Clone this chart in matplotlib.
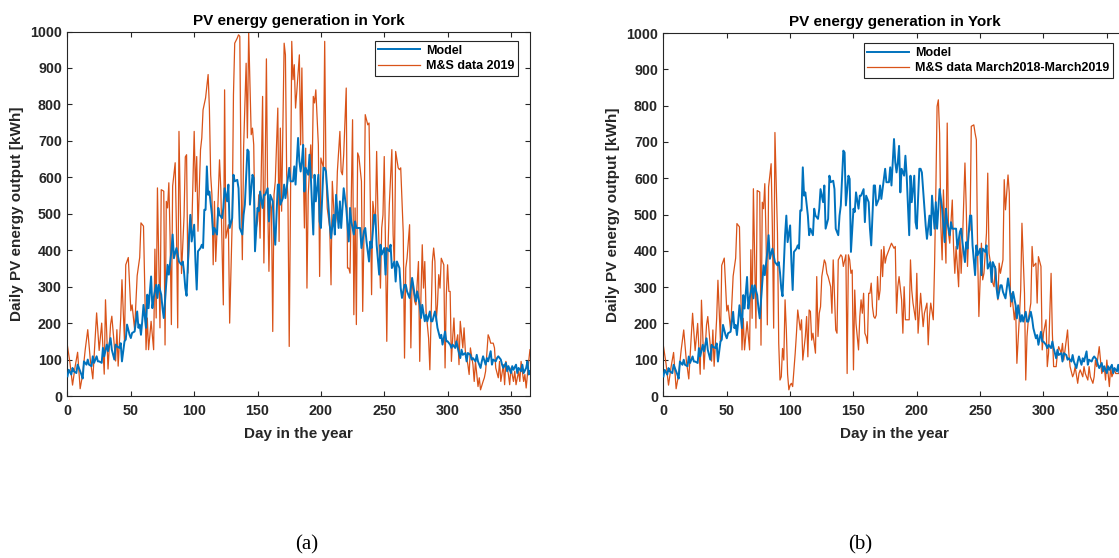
import matplotlib
matplotlib.use("Agg")
import matplotlib.pyplot as plt

plt.rcParams["font.family"] = ["Liberation Sans", "DejaVu Sans"]

# Model output (same curve in both panels)
model_day = [0, 1, 3, 4, 5, 7, 8, 9, 11, 12, 13, 15, 16, 17, 19, 20, 21, 23, 24, 25, 27, 28, 29, 31, 32, 33, 34, 35,
             37, 38, 39, 41, 42, 43, 45, 46, 47, 49, 50, 51, 53, 54, 55, 56, 57, 58, 59, 60, 62, 63, 64, 66, 67, 68,
             70, 71, 72, 74, 75, 76, 78, 79, 80, 82, 83, 84, 86, 87, 88, 90, 91, 92, 93, 94, 96, 97, 98, 100, 101,
             102, 103, 105, 106, 107, 108, 109, 110, 111, 112, 114, 115, 116, 118, 119, 120, 122, 123, 124, 126,
             127, 128, 130, 131, 132, 134, 135, 136, 138, 139, 140, 142, 143, 144, 146, 147, 148, 150, 151, 152,
             154, 155, 156, 158, 159, 160, 162, 163, 164, 166, 167, 168, 170, 171, 172, 174, 175, 176, 178, 179,
             180, 182, 183, 184, 185, 186, 187, 188, 190, 191, 192, 194, 195, 196, 198, 199, 200, 202, 203, 204,
             206, 207, 208, 210, 211, 212, 214, 215, 216, 218, 219, 220, 222, 223, 224, 226, 227, 228, 230, 231,
             232, 234, 235, 236, 238, 239, 240, 242, 243, 244, 246, 247, 248, 250, 251, 252, 254, 255, 256, 258,
             259, 260, 262, 263, 264, 266, 267, 268, 270, 271, 272, 274, 275, 276, 278, 279, 280, 282, 283, 284,
             286, 287, 288, 290, 291, 292, 294, 295, 296, 298, 299, 300, 302, 303, 304, 306, 307, 308, 310, 311,
             312, 314, 315, 316, 318, 319, 320, 322, 323, 324, 326, 327, 328, 330, 331, 332, 334, 335, 336, 338,
             339, 340, 342, 343, 344, 346, 347, 348, 350, 351, 352, 354, 355, 356, 358, 359, 360, 362, 363, 364,
             365]
model_kwh = [54, 72, 59, 77, 68, 63, 86, 77, 59, 48, 95, 86, 100, 86, 82, 109, 91, 109, 95, 95, 91, 132, 109, 141,
             123, 141, 159, 127, 100, 141, 136, 132, 145, 95, 150, 155, 196, 168, 159, 173, 177, 205, 232, 187, 196,
             168, 205, 250, 187, 278, 241, 328, 241, 269, 305, 269, 305, 278, 241, 214, 314, 360, 333, 397, 443,
             378, 406, 388, 369, 360, 369, 340, 296, 275, 443, 497, 424, 470, 369, 292, 397, 406, 415, 406, 511,
             511, 630, 552, 561, 497, 443, 461, 443, 516, 497, 488, 516, 570, 534, 580, 461, 488, 607, 589, 593,
             570, 461, 443, 497, 525, 676, 671, 525, 607, 598, 397, 516, 507, 561, 516, 552, 552, 570, 479, 552,
             534, 461, 415, 580, 580, 525, 543, 580, 543, 598, 626, 589, 589, 630, 580, 708, 644, 616, 644, 689,
             561, 626, 607, 662, 607, 443, 607, 534, 607, 479, 461, 626, 626, 616, 516, 470, 433, 497, 443, 552,
             461, 534, 461, 570, 543, 516, 424, 516, 479, 443, 479, 461, 461, 461, 406, 452, 461, 424, 369, 424,
             406, 497, 497, 415, 333, 415, 388, 406, 333, 406, 397, 415, 351, 369, 314, 369, 351, 296, 269, 305,
             305, 287, 269, 296, 324, 278, 260, 287, 250, 214, 250, 205, 223, 205, 232, 205, 205, 232, 214, 187,
             159, 168, 141, 177, 150, 150, 141, 132, 141, 132, 150, 132, 104, 127, 113, 118, 95, 118, 113, 100,
             104, 95, 113, 95, 77, 95, 109, 86, 104, 95, 123, 86, 100, 95, 104, 109, 100, 86, 77, 91, 68, 82, 63,
             82, 72, 86, 63, 77, 68, 86, 63, 77, 95, 59, 68]

# M&S measured data, January-December 2019
ms2019_day = [0, 2, 4, 6, 8, 10, 12, 14, 16, 18, 20, 23, 25, 27, 29, 30, 32, 34, 35, 38, 39, 40, 42, 43, 45, 46, 48,
              50, 51, 53, 55, 57, 58, 60, 62, 63, 64, 66, 68, 69, 70, 71, 73, 74, 76, 77, 78, 79, 80, 81, 82, 83,
              85, 86, 87, 88, 89, 90, 92, 93, 94, 95, 97, 98, 100, 101, 102, 103, 105, 106, 107, 109, 111, 112, 113,
              114, 115, 116, 117, 118, 120, 121, 123, 124, 125, 127, 128, 130, 131, 132, 134, 135, 136, 137, 138,
              139, 141, 142, 143, 145, 146, 147, 148, 150, 151, 152, 154, 155, 156, 157, 158, 159, 160, 161, 162,
              163, 164, 166, 167, 168, 169, 171, 172, 173, 174, 175, 176, 177, 178, 179, 180, 181, 183, 184, 185,
              186, 187, 188, 189, 190, 192, 193, 194, 195, 196, 198, 199, 200, 202, 203, 204, 205, 207, 208, 209,
              211, 212, 213, 215, 216, 217, 218, 220, 221, 222, 223, 225, 226, 227, 228, 229, 230, 232, 233, 234,
              235, 237, 238, 239, 240, 241, 243, 244, 245, 247, 248, 249, 250, 252, 253, 254, 256, 257, 258, 259,
              261, 262, 263, 265, 266, 267, 268, 270, 271, 272, 274, 275, 277, 278, 279, 280, 281, 282, 283, 285,
              286, 288, 289, 290, 291, 292, 293, 294, 295, 297, 298, 299, 300, 301, 302, 303, 304, 305, 306, 308,
              309, 310, 312, 313, 314, 316, 317, 318, 320, 321, 322, 324, 325, 326, 328, 329, 330, 332, 333, 334,
              336, 337, 338, 340, 341, 342, 344, 345, 346, 348, 349, 350, 352, 353, 354, 356, 357, 358, 360, 361,
              362, 364, 365]
ms2019_kwh = [137, 90, 30, 80, 120, 20, 60, 127, 182, 100, 47, 228, 125, 200, 60, 264, 74, 196, 219, 96, 182, 82,
              214, 319, 150, 360, 380, 234, 250, 182, 330, 380, 475, 466, 127, 214, 127, 205, 127, 403, 214, 571,
              187, 566, 562, 140, 534, 516, 585, 434, 196, 576, 640, 458, 187, 726, 537, 336, 493, 656, 662, 337,
              497, 443, 726, 561, 657, 452, 676, 708, 785, 818, 882, 790, 607, 552, 360, 534, 369, 452, 648, 570,
              250, 840, 433, 470, 200, 479, 827, 968, 982, 991, 987, 598, 374, 680, 913, 708, 999, 717, 735, 689,
              443, 479, 552, 433, 822, 365, 607, 925, 534, 342, 534, 516, 177, 552, 589, 790, 424, 735, 507, 968,
              936, 607, 543, 136, 525, 973, 868, 909, 790, 836, 936, 689, 900, 644, 461, 680, 296, 552, 689, 598,
              822, 804, 840, 689, 328, 653, 626, 973, 616, 516, 461, 305, 589, 461, 488, 616, 726, 616, 607, 662,
              845, 351, 351, 337, 758, 223, 516, 196, 667, 657, 589, 232, 443, 772, 744, 749, 534, 278, 534, 470,
              671, 507, 296, 461, 497, 657, 150, 406, 525, 676, 443, 351, 671, 626, 621, 626, 447, 104, 351, 378,
              470, 132, 324, 260, 250, 369, 95, 278, 415, 296, 369, 232, 159, 72, 369, 406, 369, 205, 250, 333,
              296, 378, 360, 77, 278, 360, 287, 287, 95, 159, 214, 132, 168, 86, 205, 132, 187, 123, 86, 59, 132,
              86, 40, 95, 26, 50, 17, 40, 50, 68, 168, 159, 145, 145, 132, 77, 50, 95, 40, 86, 31, 95, 59, 31, 77,
              40, 68, 31, 68, 40, 95, 40, 59, 22, 95, 127]

# M&S measured data, March 2018 - March 2019 (first 88 days shared with 2019 series)
ms1819_day = ms2019_day[:56] + [
    90, 91, 92, 93, 94, 95, 96, 97, 98, 99, 100, 101, 102, 104, 105, 106, 108, 109, 110, 112, 113, 114, 115, 116,
    117, 118, 120, 121, 122, 123, 124, 125, 127, 128, 129, 130, 132, 133, 134, 136, 137, 138, 140, 141, 142, 144,
    145, 146, 147, 148, 149, 150, 151, 152, 153, 154, 155, 156, 157, 158, 159, 160, 161, 162, 163, 164, 165, 166,
    167, 168, 169, 170, 171, 172, 173, 174, 175, 176, 178, 179, 180, 182, 183, 184, 185, 186, 188, 189, 190, 191,
    192, 194, 195, 196, 197, 199, 200, 201, 203, 204, 205, 206, 208, 209, 210, 211, 213, 214, 215, 216, 217, 218,
    219, 220, 221, 223, 224, 225, 226, 228, 229, 230, 231, 233, 234, 235, 236, 238, 239, 240, 241, 242, 243, 245,
    246, 247, 248, 249, 251, 252, 253, 255, 256, 257, 259, 260, 261, 262, 264, 265, 266, 268, 269, 270, 272, 273,
    274, 275, 277, 278, 279, 281, 282, 283, 285, 286, 287, 288, 290, 291, 292, 294, 295, 296, 298, 299, 300, 302,
    303, 304, 306, 307, 308, 310, 311, 312, 314, 315, 316, 318, 319, 320, 321, 323, 324, 325, 327, 328, 329, 331,
    332, 333, 335, 336, 337, 339, 340, 341, 342, 344, 345, 346, 348, 349, 350, 352, 353, 354, 356, 357, 359, 361,
    363, 365]
ms1819_kwh = ms2019_kwh[:56] + [
    449, 145, 44, 53, 131, 99, 265, 182, 60, 17, 30, 35, 26, 118, 173, 237, 182, 210, 99, 164, 219, 108, 237, 233,
    154, 173, 118, 329, 164, 228, 246, 329, 375, 366, 338, 329, 301, 228, 375, 182, 173, 375, 389, 384, 357, 389,
    62, 389, 375, 338, 347, 72, 292, 200, 164, 127, 219, 265, 228, 283, 173, 164, 145, 283, 283, 311, 246, 219,
    214, 223, 329, 265, 292, 403, 329, 412, 366, 384, 403, 412, 421, 407, 412, 228, 301, 329, 265, 173, 301, 210,
    210, 210, 375, 292, 256, 210, 338, 173, 283, 237, 191, 228, 256, 141, 219, 256, 210, 357, 559, 798, 816, 724,
    467, 375, 568, 366, 752, 449, 421, 540, 412, 338, 412, 301, 449, 338, 421, 642, 522, 357, 449, 458, 743, 747,
    724, 706, 393, 219, 421, 320, 338, 449, 614, 393, 347, 311, 301, 357, 265, 366, 338, 375, 596, 513, 609, 559,
    246, 283, 210, 246, 90, 219, 292, 476, 283, 44, 164, 210, 256, 412, 357, 366, 256, 384, 357, 127, 173, 210,
    81, 118, 338, 173, 81, 81, 118, 136, 118, 145, 99, 154, 182, 118, 81, 53, 62, 81, 35, 62, 72, 53,
    81, 62, 44, 81, 53, 35, 53, 99, 81, 136, 99, 62, 81, 44, 99, 26, 81, 53, 72, 62, 62, 62,
    60, 62]

BLUE = "#0072BD"
ORANGE = "#D95319"
DARK = "#262626"

fig = plt.figure(figsize=(11.19, 5.58), dpi=100)
ax_a = fig.add_axes([0.0603, 0.2903, 0.4133, 0.6532])
ax_b = fig.add_axes([0.5929, 0.2903, 0.4132, 0.6505])

panels = [
    (ax_a, ms2019_day, ms2019_kwh, "M&S data 2019", (0.974, 0.974)),
    (ax_b, ms1819_day, ms1819_kwh, "M&S data March2018-March2019", (0.972, 0.972)),
]

for ax, d, v, lab, anchor in panels:
    ax.plot(model_day, model_kwh, color=BLUE, lw=1.4, label="Model", zorder=3)
    ax.plot(d, v, color=ORANGE, lw=0.9, label=lab, zorder=2)
    ax.set_xlim(0, 365)
    ax.set_ylim(0, 1000)
    ax.set_xticks(range(0, 351, 50))
    ax.set_yticks(range(0, 1001, 100))
    ax.tick_params(axis="both", direction="in", top=True, right=True, length=3.5, width=0.8,
                   colors=DARK, labelsize=10.3)
    ax.tick_params(axis="x", pad=6)
    ax.tick_params(axis="y", pad=4)
    for t in ax.get_xticklabels() + ax.get_yticklabels():
        t.set_fontweight("bold")
    for s in ax.spines.values():
        s.set_color(DARK)
        s.set_linewidth(0.8)
    ax.set_title("PV energy generation in York", fontsize=11, fontweight="bold", pad=5)
    ax.set_xlabel("Day in the year", fontsize=11, fontweight="bold", color=DARK, labelpad=6)
    ax.set_ylabel("Daily PV energy output [kWh]", fontsize=11, fontweight="bold", color=DARK, labelpad=4)
    leg = ax.legend(loc="upper right", bbox_to_anchor=anchor, borderaxespad=0, fancybox=False,
                    edgecolor=DARK, framealpha=1, handlelength=3.3, handletextpad=0.5,
                    borderpad=0.3, labelspacing=0.25, prop={"weight": "bold", "size": 9})
    leg.get_frame().set_linewidth(0.8)

fig.text(307 / 1119, 1 - 545 / 558, "(a)", ha="center", va="center",
         fontsize=15, family=["Liberation Serif", "DejaVu Serif"])
fig.text(860 / 1119, 1 - 545 / 558, "(b)", ha="center", va="center",
         fontsize=15, family=["Liberation Serif", "DejaVu Serif"])

fig.savefig("out.png", dpi=100)
